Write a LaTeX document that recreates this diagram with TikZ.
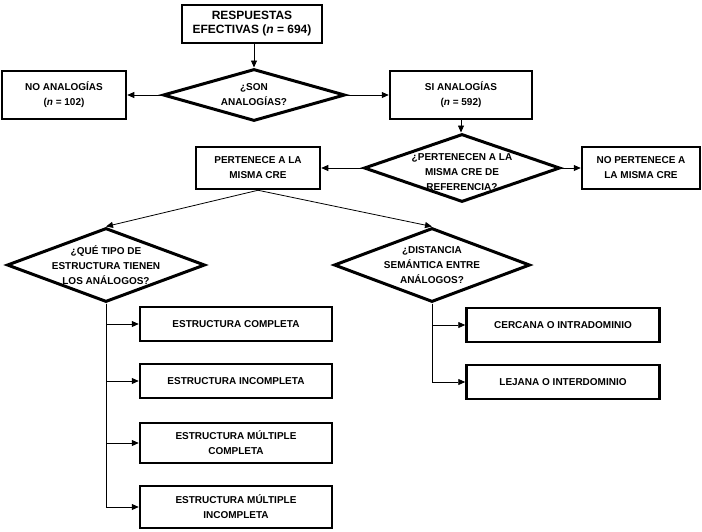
\documentclass[tikz,border=0pt]{standalone}
\usepackage{fontspec}
\setmainfont{Liberation Sans}
\usetikzlibrary{arrows.meta,shapes.geometric}

\tikzset{
  box/.style={draw,line width=2.5pt,align=center,inner sep=2pt,
    font=\bfseries\fontsize{10}{15}\selectfont},
  decision/.style={draw,diamond,line width=3pt,inner sep=0pt},
  dtext/.style={align=center,font=\bfseries\fontsize{10}{15}\selectfont},
  arrow/.style={-{Triangle[length=7pt,width=6pt]},line width=0.8pt},
}

\begin{document}
\begin{tikzpicture}[x=1pt,y=-1pt]
    \useasboundingbox (0,0) rectangle (702,531);

    % top: answers and first question
    \node[box,minimum width=140pt,minimum height=38pt,
      font=\bfseries\fontsize{12}{14}\selectfont] (resp) at (252,24)
      {RESPUESTAS\\EFECTIVAS (\textit{n} = 694)};
    \node[decision,minimum width=182pt,minimum height=52pt] (son) at (254,95) {};
    \node[dtext] at (son) {¿SON\\ANALOGÍAS?};
    \node[box,minimum width=124pt,minimum height=48pt] (noan) at (64,95)
      {NO ANALOGÍAS\\(\textit{n} = 102)};
    \node[box,minimum width=142pt,minimum height=48pt] (sian) at (461,95)
      {SI ANALOGÍAS\\(\textit{n} = 592)};

    % second question: same CRE
    \node[decision,minimum width=196pt,minimum height=68pt] (cre) at (462,168) {};
    \node[dtext] at ([yshift=-4pt]cre.center) {¿PERTENECEN A LA\\MISMA CRE DE\\REFERENCIA?};
    \node[box,minimum width=124pt,minimum height=42pt] (pert) at (258,168)
      {PERTENECE A LA\\MISMA CRE};
    \node[box,minimum width=118pt,minimum height=42pt] (nopert) at (641,168)
      {NO PERTENECE A\\LA MISMA CRE};

    % third level questions
    \node[decision,minimum width=198pt,minimum height=74pt] (tipo) at (106,265) {};
    \node[dtext] at (tipo) {¿QUÉ TIPO DE\\ESTRUCTURA TIENEN\\LOS ANÁLOGOS?};
    \node[decision,minimum width=196pt,minimum height=74pt] (dist) at (432,265) {};
    \node[dtext] at (dist) {¿DISTANCIA\\SEMÁNTICA ENTRE\\ANÁLOGOS?};

    % left column: kinds of structure
    \node[box,minimum width=192pt,minimum height=34pt] (ecomp) at (236,324)
      {ESTRUCTURA COMPLETA};
    \node[box,minimum width=192pt,minimum height=34pt] (einc) at (236,381)
      {ESTRUCTURA INCOMPLETA};
    \node[box,minimum width=192pt,minimum height=40pt] (emcomp) at (236,443)
      {ESTRUCTURA MÚLTIPLE\\COMPLETA};
    \node[box,minimum width=192pt,minimum height=42pt] (eminc) at (236,507)
      {ESTRUCTURA MÚLTIPLE\\INCOMPLETA};

    % right column: semantic distance
    \node[box,minimum width=193pt,minimum height=34pt] (cerca) at (563,325)
      {CERCANA O INTRADOMINIO};
    \node[box,minimum width=193pt,minimum height=34pt] (lejos) at (563,382)
      {LEJANA O INTERDOMINIO};

    % connectors
    \draw[arrow] (resp.south -| son.north) -- (son.north);
    \draw[arrow] (son.west) -- (noan.east);
    \draw[arrow] (son.east) -- (sian.west);
    \draw[arrow] (sian.south) -- (sian.south |- cre.north);
    \draw[arrow] (cre.west) -- (pert.east);
    \draw[arrow] (cre.east) -- (nopert.west);
    \draw[arrow] (pert.south) -- (tipo.north);
    \draw[arrow] (pert.south) -- (dist.north);
    \foreach \e in {ecomp,einc,emcomp,eminc}
        \draw[arrow] (tipo.south) |- (\e.west);
    \foreach \e in {cerca,lejos}
        \draw[arrow] (dist.south) |- (\e.west);
\end{tikzpicture}
\end{document}
